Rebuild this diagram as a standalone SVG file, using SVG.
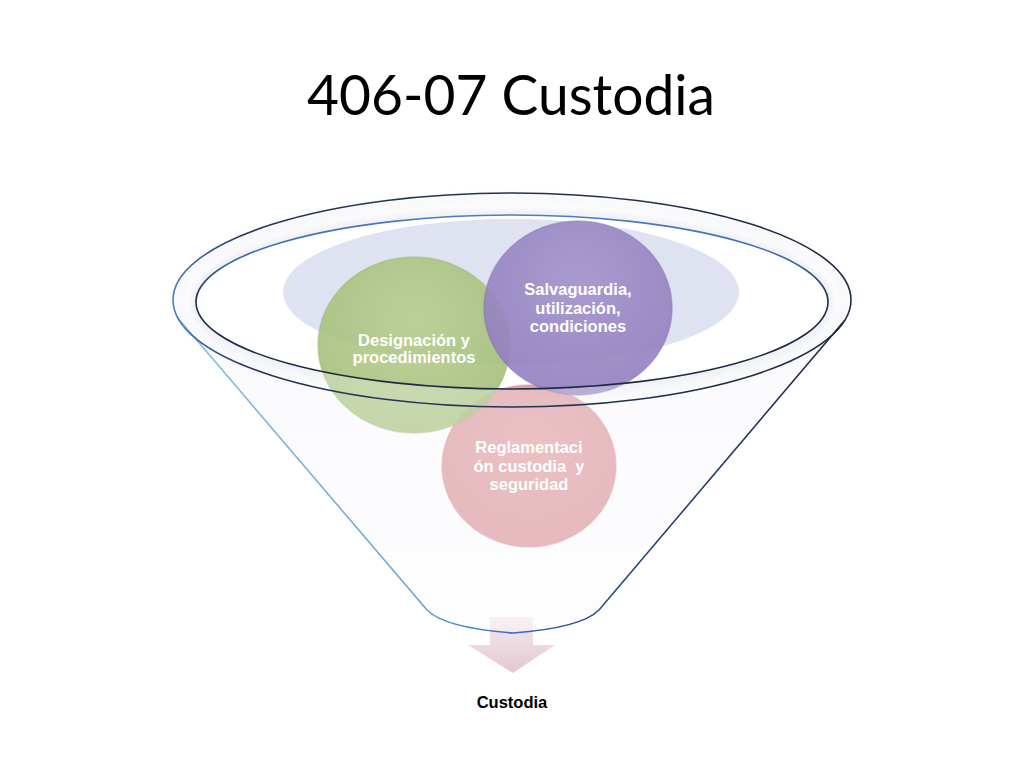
<svg xmlns="http://www.w3.org/2000/svg" width="1024" height="768" viewBox="0 0 1024 768">
  <defs>
    <style>
      .lbl { font-family: "Liberation Sans", Arial, sans-serif; font-weight: bold; font-size: 16.5px; fill: #ffffff; text-anchor: middle; }
      .out { font-family: "Liberation Sans", Arial, sans-serif; font-weight: bold; font-size: 16.5px; fill: #000000; text-anchor: middle; }
      .title { font-family: Lato, "Liberation Sans", sans-serif; font-size: 56px; fill: #000000; }
      .circ { stroke-width: 1.5; }
    </style>
    <linearGradient id="funnelStroke" gradientUnits="userSpaceOnUse" x1="173" y1="0" x2="851" y2="0">
      <stop offset="0" stop-color="#86c2e2"/>
      <stop offset="0.35" stop-color="#6aa6d8"/>
      <stop offset="0.5" stop-color="#3a6cc0"/>
      <stop offset="0.65" stop-color="#2d4a80"/>
      <stop offset="1" stop-color="#1f2a44"/>
    </linearGradient>
    <linearGradient id="rimStroke" gradientUnits="userSpaceOnUse" x1="173" y1="0" x2="851" y2="0">
      <stop offset="0" stop-color="#4a7cc8"/>
      <stop offset="0.1" stop-color="#26375e"/>
      <stop offset="1" stop-color="#1f2a44"/>
    </linearGradient>
    <linearGradient id="innerStroke" gradientUnits="userSpaceOnUse" x1="0" y1="215" x2="0" y2="389">
      <stop offset="0" stop-color="#4a7cc8"/>
      <stop offset="0.3" stop-color="#3a5f9e"/>
      <stop offset="0.5" stop-color="#1f2a44"/>
      <stop offset="1" stop-color="#1f2a44"/>
    </linearGradient>
    <linearGradient id="bodyFill" x1="0" y1="0" x2="0" y2="1">
      <stop offset="0" stop-color="#f7f7fc"/>
      <stop offset="1" stop-color="#fdfdff"/>
    </linearGradient>
    <linearGradient id="arrowFill" x1="0" y1="0" x2="0" y2="1">
      <stop offset="0" stop-color="#f5eaee"/>
      <stop offset="1" stop-color="#e3c8d2"/>
    </linearGradient>
    <radialGradient id="gGreen" cx="0.5" cy="0.35" r="0.6">
      <stop offset="0" stop-color="#b6ce8c"/>
      <stop offset="1" stop-color="#a3bd76"/>
    </radialGradient>
    <radialGradient id="gPurple" cx="0.5" cy="0.35" r="0.6">
      <stop offset="0" stop-color="#a493cc"/>
      <stop offset="1" stop-color="#9380bf"/>
    </radialGradient>
    <radialGradient id="gPink" cx="0.5" cy="0.35" r="0.6">
      <stop offset="0" stop-color="#e0a0a5"/>
      <stop offset="1" stop-color="#d9959b"/>
    </radialGradient>
    <filter id="soft" x="-10%" y="-30%" width="120%" height="160%">
      <feGaussianBlur stdDeviation="4"/>
    </filter>
  </defs>

  <rect width="1024" height="768" fill="#ffffff"/>

  <text class="title" x="307" y="115" textLength="408" lengthAdjust="spacingAndGlyphs">406-07 Custodia</text>

  <g id="funnel">
    <path d="M177,317 A339,107 0 1 1 845,320 L599,610 Q581,628 513,633 Q445,628 427,610 Z" fill="url(#bodyFill)"/>
    <ellipse cx="512" cy="300" rx="339" ry="107" fill="#ffffff"/>
    <ellipse cx="512" cy="300" rx="333" ry="101" fill="none" stroke="#dcdee8" stroke-width="5" filter="url(#soft)" opacity="0.6"/>
    <ellipse cx="512" cy="302" rx="316" ry="87" fill="none" stroke="#cfd2e0" stroke-width="8" filter="url(#soft)" opacity="0.7"/>
    <ellipse cx="512" cy="302" rx="316" ry="87" fill="#ffffff"/>
    <ellipse cx="511" cy="292" rx="228" ry="73" fill="#dfe2f1"/>
  </g>

  <g id="connectors">
    <polygon points="490,617 533,617 533,645 555,645 513,673 468,645 490,645" fill="url(#arrowFill)"/>
  </g>

  <g id="node-reglamentacion">
    <ellipse class="circ" cx="529" cy="466" rx="87" ry="81" fill="url(#gPink)" stroke="#d38a91" stroke-opacity="0.5" opacity="0.92"/>
  </g>
  <g id="node-designacion">
    <ellipse class="circ" cx="414" cy="345" rx="96" ry="88" fill="url(#gGreen)" stroke="#9bb56e" stroke-opacity="0.6" opacity="0.87"/>
  </g>
  <g id="node-salvaguardia">
    <ellipse class="circ" cx="578" cy="308" rx="94" ry="87" fill="url(#gPurple)" stroke="#8472b3" stroke-opacity="0.6" opacity="0.9"/>
  </g>

  <g id="glass">
    <path fill-rule="evenodd" fill="#ffffff" fill-opacity="0.3" d="M177,317 A339,107 0 1 1 845,320 L599,610 Q581,628 513,633 Q445,628 427,610 Z M196,302 A316,87 0 1 0 828,302 A316,87 0 1 0 196,302 Z"/>
  </g>

  <g id="funnel-lines" fill="none">
    <path d="M177,317 L427,610 Q445,628 513,633 Q581,628 599,610 L845,320" stroke="url(#funnelStroke)" stroke-width="1.6"/>
    <ellipse cx="512" cy="300" rx="339" ry="107" stroke="url(#rimStroke)" stroke-width="1.6"/>
    <ellipse cx="512" cy="302" rx="316" ry="87" stroke="url(#innerStroke)" stroke-width="1.6"/>
  </g>

  <g id="labels">
    <text class="lbl" x="414" y="346">Designación y</text>
    <text class="lbl" x="414" y="363">procedimientos</text>
    <text class="lbl" x="578" y="295">Salvaguardia,</text>
    <text class="lbl" x="578" y="314">utilización,</text>
    <text class="lbl" x="578" y="332">condiciones</text>
    <text class="lbl" x="529" y="453">Reglamentaci</text>
    <text class="lbl" x="529" y="472">ón custodia&#160; y</text>
    <text class="lbl" x="529" y="490">seguridad</text>
  </g>

  <g id="node-custodia">
    <text class="out" x="512" y="708">Custodia</text>
  </g>
</svg>
